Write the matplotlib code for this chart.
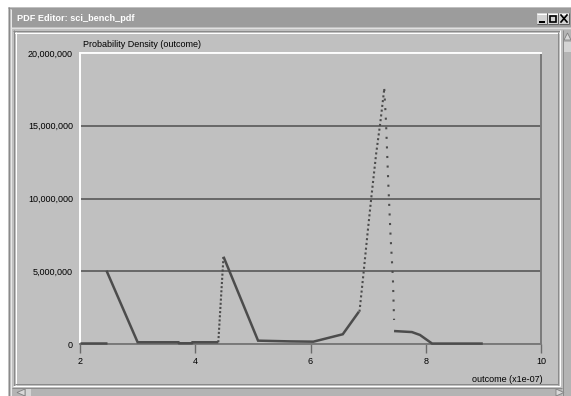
import matplotlib
matplotlib.use("Agg")
import matplotlib.pyplot as plt
from matplotlib.patches import Rectangle, Polygon
from matplotlib.ticker import FuncFormatter

# ---- data (x in units of 1e-07, y = probability density) ----
solid1_x = [2.0, 2.46]
solid1_y = [0.07e6, 0.07e6]
solid2_x = [2.46, 3.0, 3.71, 3.72, 3.94, 3.95, 4.40]
solid2_y = [5.04e6, 0.12e6, 0.12e6, 0.05e6, 0.05e6, 0.12e6, 0.12e6]
dot1_x = [4.40, 4.49]
dot1_y = [0.12e6, 6.0e6]
solid3_x = [4.49, 5.09, 5.64, 6.05, 6.56, 6.84]
solid3_y = [6.0e6, 0.23e6, 0.18e6, 0.16e6, 0.67e6, 2.22e6]
dot2_x = [6.85, 6.92, 6.99, 7.06, 7.14, 7.21, 7.28]
dot2_y = [2.22e6, 4.86e6, 7.61e6, 10.24e6, 13.1e6, 15.17e6, 17.53e6]
dot3_x = [7.28, 7.31, 7.35, 7.39, 7.43, 7.45]
dot3_y = [17.53e6, 15.28e6, 11.04e6, 7.37e6, 4.52e6, 1.65e6]
solid4_x = [7.45, 7.76, 7.90, 8.11, 8.99]
solid4_y = [0.89e6, 0.82e6, 0.62e6, 0.03e6, 0.03e6]

x_ticks = [2, 4, 6, 8, 10]
y_ticks = [0, 5e6, 10e6, 15e6, 20e6]

window_title = "PDF Editor: sci_bench_pdf"
chart_title = "Probability Density (outcome)"
x_label = "outcome (x1e-07)"

FONT = ["Liberation Sans", "DejaVu Sans"]
PANEL = "#c0c0c0"
LINE = "#4c4c4c"

W, H = 571, 396
fig = plt.figure(figsize=(W / 100, H / 100), dpi=100)
fig.patch.set_facecolor("white")

# ---- window chrome (pixel coordinates) ----
bg = fig.add_axes([0, 0, 1, 1])
bg.set_xlim(0, W)
bg.set_ylim(H, 0)
bg.axis("off")

def rect(x, y, w, h, c):
    bg.add_patch(Rectangle((x, y), w, h, facecolor=c, edgecolor="none"))

def hline(x0, x1, y, c, lw=1):
    bg.plot([x0, x1], [y, y], color=c, lw=lw * 0.72, solid_capstyle="butt")

def vline(x, y0, y1, c, lw=1):
    bg.plot([x, x], [y0, y1], color=c, lw=lw * 0.72, solid_capstyle="butt")

rect(8, 7, W - 8, H - 7, PANEL)
hline(8, W, 7.5, "#9a9a9a")
vline(8.5, 7, H, "#8a8a8a")
vline(10.5, 9, H, "#e8e8e8")
# title bar
rect(11, 9, W - 11, 18, "#9c9c9c")
hline(11, W, 27.5, "#e0e0e0")
bg.text(17, 18.5, window_title, color="white", fontsize=6.6, fontweight="bold",
        family=FONT, ha="left", va="center")
# title buttons
for bx in (537, 548, 559):
    rect(bx, 13, 10, 11, "#d4d4d4")
    hline(bx, bx + 10, 13.5, "white")
    vline(bx + 9.5, 13, 24, "#606060")
    hline(bx, bx + 10, 23.5, "#606060")
hline(539, 545, 21.5, "black", 2)
bg.add_patch(Rectangle((550, 15.5), 6, 6, facecolor="none", edgecolor="black", lw=1.2))
bg.plot([561, 567], [15, 22], color="black", lw=1.2)
bg.plot([561, 567], [22, 15], color="black", lw=1.2)

# etched inner panel border
hline(13, 560, 30.5, "#8a8a8a")
hline(14, 559, 32.5, "white")
vline(13.5, 30, 386, "#8a8a8a")
vline(15.5, 32, 385, "white")
vline(557.5, 32, 385, "#8a8a8a")
vline(559.5, 30, 386, "white")
hline(15, 558, 383.5, "#8a8a8a")
hline(13, 560, 385.5, "white")

# right scrollbar
vline(562.5, 30, H, "#8a8a8a")
rect(563, 30, 8, H - 30, "#b4b4b4")
bg.add_patch(Polygon([[564, 40], [567.5, 33], [571, 40]], closed=True,
                     facecolor="#d8d8d8", edgecolor="#808080", lw=0.6))
rect(564, 42, 7, 10, "#d4d4d4")
# bottom scrollbar
hline(12, 562, 387.5, "#8a8a8a")
rect(12, 388, 550, 8, "#b4b4b4")
bg.add_patch(Polygon([[25, 389], [17, 392.5], [25, 396]], closed=True,
                     facecolor="#d8d8d8", edgecolor="#808080", lw=0.6))
rect(26, 389, 5, 7, "#d4d4d4")
bg.add_patch(Polygon([[556, 389], [564, 392.5], [556, 396]], closed=True,
                     facecolor="#d8d8d8", edgecolor="#808080", lw=0.6))

# ---- plot ----
L, R, T, B = 80, 541, 53, 344
ax = fig.add_axes([L / W, (H - B) / H, (R - L) / W, (B - T) / H])
ax.set_facecolor(PANEL)
ax.set_xlim(x_ticks[0], x_ticks[-1])
ax.set_ylim(y_ticks[0], y_ticks[-1])

for s in ("left", "top"):
    ax.spines[s].set_color("white")
    ax.spines[s].set_linewidth(1.4)
for s in ("right", "bottom"):
    ax.spines[s].set_color("#7a7a7a")
    ax.spines[s].set_linewidth(1.4)

ax.set_axisbelow(True)
ax.yaxis.grid(True, color="#606060", lw=1.3)
ax.xaxis.grid(False)

ax.set_xticks(x_ticks)
ax.set_xticklabels([str(v) for v in x_ticks], family=FONT, fontsize=6.5)
ax.set_yticks(y_ticks)
ax.yaxis.set_major_formatter(FuncFormatter(lambda v, p: f"{int(round(v)):,}"))
for lab in ax.get_yticklabels():
    lab.set_family(FONT)
    lab.set_fontsize(6.5)
ax.tick_params(axis="x", direction="out", length=6.5, width=1, color="#6a6a6a",
               pad=2.5, labelcolor="black")
ax.tick_params(axis="y", length=0, pad=5, labelcolor="black")

solid_kw = dict(color=LINE, lw=1.8, solid_capstyle="butt", solid_joinstyle="miter",
                zorder=3, clip_on=False)
ax.plot(solid1_x, solid1_y, **solid_kw)
ax.plot(solid2_x, solid2_y, **solid_kw)
ax.plot(solid3_x, solid3_y, **solid_kw)
ax.plot(solid4_x, solid4_y, **solid_kw)
dot_kw = dict(color=LINE, lw=1.5, dash_capstyle="butt", zorder=3)
ax.plot(dot1_x, dot1_y, linestyle=(0, (1, 1.0)), **dot_kw)
ax.plot(dot2_x, dot2_y, linestyle=(0, (1, 1.3)), **dot_kw)
ax.plot(dot3_x, dot3_y, linestyle=(0, (1, 3.6)), **dot_kw)

bg.text(83, 44.5, chart_title, family=FONT, fontsize=6.5, ha="left", va="center")
bg.text(543, 379, x_label, family=FONT, fontsize=6.5, ha="right", va="center")

fig.savefig("out.png", dpi=100, facecolor=fig.get_facecolor())
